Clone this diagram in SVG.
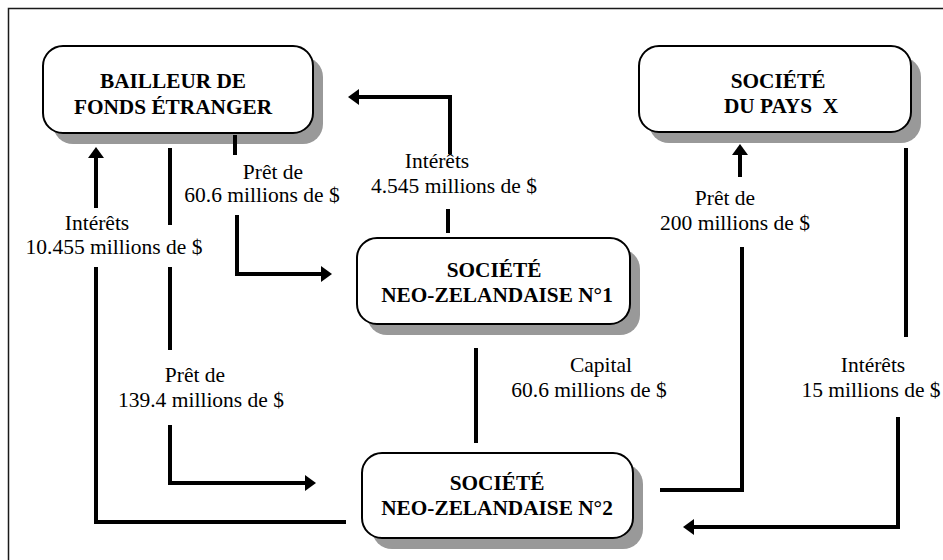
<svg xmlns="http://www.w3.org/2000/svg" width="943" height="560" viewBox="0 0 943 560">
<style>
.frame{fill:none;stroke:#1a1a1a;stroke-width:1.5}
.shadow{fill:#999}
.box{fill:#fff;stroke:#000;stroke-width:2}
text{font-family:"Liberation Serif","Times New Roman",serif;font-size:21.5px;fill:#000;text-anchor:middle}
.b{font-weight:bold;font-size:21.3px}
.c{fill:none;stroke:#000;stroke-width:4;stroke-linejoin:miter}
</style>
<defs>
<marker id="ah" markerUnits="userSpaceOnUse" markerWidth="12" markerHeight="18" viewBox="0 -9 12 18" refX="0" refY="0" orient="auto">
<path d="M0,-8 L11,0 L0,8 Z" fill="#000"/>
</marker>
</defs>
<rect class="frame" x="8.5" y="8.5" width="1000" height="600"/>

<g id="bailleur">
<rect class="shadow" x="53" y="57" width="270" height="87" rx="20"/>
<rect class="box" x="43" y="46" width="270" height="87" rx="20"/>
<text class="b" x="173" y="88">BAILLEUR DE</text>
<text class="b" x="173" y="114">FONDS ÉTRANGER</text>
</g>

<g id="pays-x">
<rect class="shadow" x="649" y="57" width="272" height="86" rx="20"/>
<rect class="box" x="639" y="46" width="272" height="86" rx="20"/>
<text class="b" x="778" y="88">SOCIÉTÉ</text>
<text class="b" x="781" y="113" xml:space="preserve">DU PAYS  X</text>
</g>

<g id="nz1">
<rect class="shadow" x="367" y="249" width="273" height="86" rx="20"/>
<rect class="box" x="357" y="238" width="273" height="86" rx="20"/>
<text class="b" x="494" y="277">SOCIÉTÉ</text>
<text class="b" x="497" y="302">NEO-ZELANDAISE N°1</text>
</g>

<g id="nz2">
<rect class="shadow" x="372" y="464" width="271" height="85" rx="20"/>
<rect class="box" x="362" y="453" width="271" height="85" rx="20"/>
<text class="b" x="497" y="490">SOCIÉTÉ</text>
<text class="b" x="497" y="515">NEO-ZELANDAISE N°2</text>
</g>

<g id="connectors">
<path class="c" d="M448,233 V209"/>
<path class="c" d="M450,154 V97 H359" marker-end="url(#ah)"/>
<path class="c" d="M235,135 V155"/>
<path class="c" d="M237,215 V274 H321" marker-end="url(#ah)"/>
<path class="c" d="M96,208 V158" marker-end="url(#ah)"/>
<path class="c" d="M346,522 H96 V267"/>
<path class="c" d="M170,148 V225"/>
<path class="c" d="M170,267 V350"/>
<path class="c" d="M170,425 V483 H305" marker-end="url(#ah)"/>
<path class="c" d="M476,348 V443"/>
<path class="c" d="M660,490 H742 V247"/>
<path class="c" d="M740,177 V155" marker-end="url(#ah)"/>
<path class="c" d="M906,148 V337"/>
<path class="c" d="M898,417 V527 H694" marker-end="url(#ah)"/>
</g>

<g id="labels">
<text x="437" y="168">Intérêts</text>
<text x="454" y="193">4.545 millions de $</text>
<text x="273" y="179">Prêt de</text>
<text x="262" y="202">60.6 millions de $</text>
<text x="97" y="230">Intérêts</text>
<text x="114" y="254">10.455 millions de $</text>
<text x="195" y="382">Prêt de</text>
<text x="201" y="407">139.4 millions de $</text>
<text x="601" y="372">Capital</text>
<text x="589" y="397">60.6 millions de $</text>
<text x="725" y="205">Prêt de</text>
<text x="735" y="230">200 millions de $</text>
<text x="873" y="372">Intérêts</text>
<text x="871" y="397">15 millions de $</text>
</g>
</svg>
